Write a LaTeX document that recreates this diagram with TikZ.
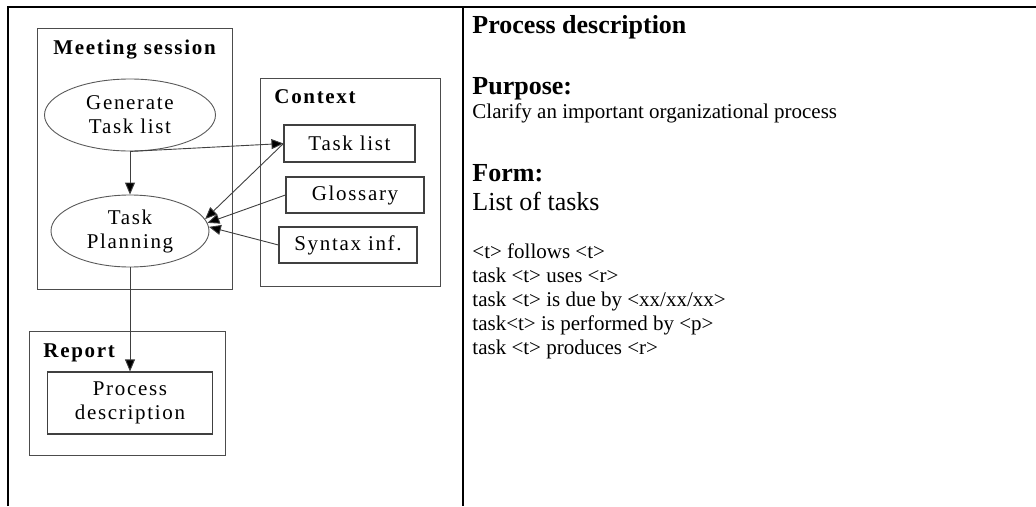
\documentclass[tikz,border=0pt]{standalone}
\usepackage{fontspec}
\setmainfont{Liberation Serif}
\newfontfamily\diagfont[LetterSpace=8]{Liberation Serif}
\usepackage{tikz}
\usetikzlibrary{arrows.meta,positioning}
\usetikzlibrary{shapes}

\begin{document}
\begin{tikzpicture}[x=1pt,y=-1pt,>={Triangle[length=12pt,width=10pt,fill=black]},
  line width=0.9pt,draw=black!75,
  group/.style={draw=black!70,line width=1.1pt,anchor=north west,inner sep=0pt},
  grouplabel/.style={inner sep=0pt,font=\diagfont\bfseries\fontsize{21}{24}\selectfont},
  task/.style={draw=black!65,ellipse,inner sep=0pt,align=center,font=\diagfont\fontsize{21}{24}\selectfont},
  item/.style={draw=black!75,line width=1.1pt,rectangle,inner sep=0pt,align=center,font=\diagfont\fontsize{21}{24}\selectfont},
  head/.style={anchor=base west,inner sep=0pt,font=\bfseries\fontsize{26}{30}\selectfont},
  txt/.style={anchor=base west,inner sep=0pt,font=\fontsize{21}{24}\selectfont}]
\useasboundingbox (0,0) rectangle (1036,506);
\draw[line width=2.5pt,black] (8,506) -- (8,7) -- (1036,7);
\draw[line width=2pt,black] (463,7) -- (463,506);

\node[group,minimum width=195pt,minimum height=261pt] (sess) at (37,28) {};
\node[grouplabel,anchor=base] (sesslbl) at (134.5,54) {Meeting session};
\node[task,minimum width=171pt,minimum height=72pt] (gen) at (130,115) {Generate\\Task list};
\node[task,minimum width=158pt,minimum height=72pt] (plan) at (130,231) {Task\\Planning};

\node[group,minimum width=180pt,minimum height=208pt] (ctx) at (260,78) {};
\node[grouplabel,anchor=base west] (ctxlbl) at (274,103) {Context};
\node[item,minimum width=131pt,minimum height=37pt] (tlist) at (349.5,143.5) {Task list};
\node[item,minimum width=138pt,minimum height=36pt] (gloss) at (355,195) {Glossary};
\node[item,minimum width=138pt,minimum height=36pt] (syn) at (348,245) {Syntax inf.};

\node[group,minimum width=196pt,minimum height=124pt] (rep) at (29,331) {};
\node[grouplabel,anchor=base west] (replbl) at (43,357) {Report};
\node[item,minimum width=165pt,minimum height=62pt] (proc) at (130,403) {Process\\description};

\path[->]
  (gen) edge (plan)
  (gen.south) edge (tlist.west)
  (tlist.west) edge (plan.9)
  (gloss.west) edge (plan.6)
  (syn.west) edge (plan.3)
  (plan) edge (proc);

\node[head] (title) at (472,33) {Process description};
\node[head] (purp) at (472,94) {Purpose:};
\node[txt] (clar) at (472,118) {Clarify an important organizational process};
\node[head] (form) at (472,181) {Form:};
\node[txt,font=\fontsize{26}{30}\selectfont] (list) at (472,210) {List of tasks};
\node[txt] (r1) at (472,258) {<t> follows <t>};
\node[txt] (r2) at (472,282) {task <t> uses <r>};
\node[txt] (r3) at (472,306) {task <t> is due by <xx/xx/xx>};
\node[txt] (r4) at (472,330) {task<t> is performed by <p>};
\node[txt] (r5) at (472,354) {task <t> produces <r>};
\end{tikzpicture}
\end{document}
